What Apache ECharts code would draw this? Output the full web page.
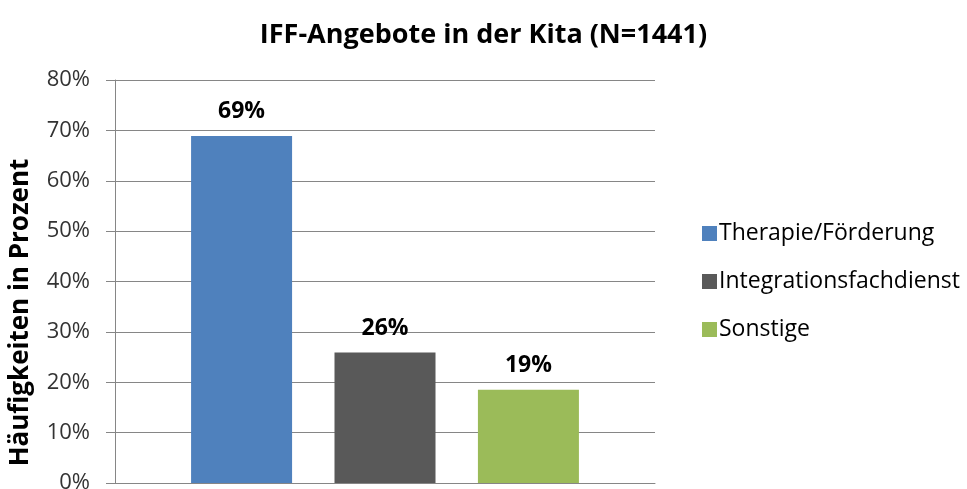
<!DOCTYPE html>
<html>
<head>
<meta charset="utf-8">
<script src="https://cdn.jsdelivr.net/npm/echarts@6/dist/echarts.min.js"></script>
<style>
  html, body { margin: 0; padding: 0; background: #fff; }
  #chart { width: 967px; height: 489px; }
</style>
</head>
<body>
<div id="chart"></div>
<script>
// data
const categories = ["IFF"];
const seriesNames = ["Therapie/Förderung", "Integrationsfachdienst", "Sonstige"];
const seriesValues = [68.9, 25.9, 18.5];
const seriesColors = ["#4F81BD", "#595959", "#9BBB59"];
const yTicks = [0, 10, 20, 30, 40, 50, 60, 70, 80];

const font = "'Open Sans', 'Liberation Sans', sans-serif";

const chart = echarts.init(document.getElementById("chart"));

const series = seriesNames.map((name, i) => ({
  name: name,
  type: "bar",
  data: [seriesValues[i]],
  barWidth: 101,
  barGap: "42%",
  itemStyle: { color: seriesColors[i] },
  label: {
    show: true,
    position: "top",
    distance: 13,
    formatter: (p) => Math.round(p.value) + "%",
    color: "#000",
    fontFamily: font,
    fontWeight: "bold",
    fontSize: 23,
  },
}));

chart.setOption({
  animation: false,
  title: {
    text: "IFF-Angebote in der Kita (N=1441)",
    left: "center",
    top: 17,
    textStyle: { fontFamily: font, fontWeight: "bold", fontSize: 27, color: "#000" },
  },
  legend: {
    orient: "vertical",
    left: 697,
    top: 217,
    itemWidth: 15,
    itemHeight: 15,
    itemGap: 25,
    icon: "rect",
    textStyle: { fontFamily: font, fontSize: 23, color: "#000", padding: [0, 0, 0, -3] },
    data: seriesNames,
  },
  grid: { left: 115, right: 312, top: 80, bottom: 6, outerBoundsMode: "none" },
  xAxis: {
    type: "category",
    data: categories,
    axisLine: { lineStyle: { color: "#868686" } },
    axisTick: { show: false },
    axisLabel: { show: false },
  },
  yAxis: {
    type: "value",
    min: yTicks[0],
    max: yTicks[yTicks.length - 1],
    interval: 10,
    name: "Häufigkeiten in Prozent",
    nameLocation: "middle",
    nameGap: 81,
    nameTextStyle: {
      fontFamily: font,
      fontWeight: "bold",
      fontSize: 26,
      color: "#000",
      padding: [0, 62, 0, 0],
    },
    axisLine: { show: true, lineStyle: { color: "#868686" } },
    axisTick: { show: true, length: 9, lineStyle: { color: "#868686" } },
    axisLabel: {
      formatter: "{value}%",
      margin: 25,
      fontFamily: font,
      fontSize: 22,
      color: "#333",
    },
    splitLine: { lineStyle: { color: "#868686" } },
  },
  series: series,
});
</script>
</body>
</html>
